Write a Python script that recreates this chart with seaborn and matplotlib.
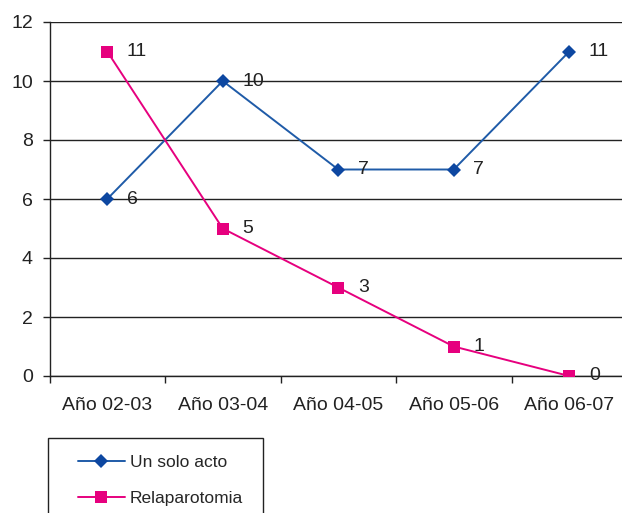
import pandas as pd
import numpy as np
import seaborn as sns
import matplotlib.pyplot as plt
from matplotlib.ticker import FixedLocator
from matplotlib.patches import Rectangle

# Data
years = ['Año 02-03', 'Año 03-04', 'Año 04-05', 'Año 05-06', 'Año 06-07']
un_solo_acto = [6, 10, 7, 7, 11]
relaparotomia = [11, 5, 3, 1, 0]

df = pd.DataFrame({
    'Año': years * 2,
    'Casos': un_solo_acto + relaparotomia,
    'Serie': ['Un solo acto'] * 5 + ['Relaparotomia'] * 5,
})

sns.set_style('white')
plt.rcParams['font.family'] = ['Liberation Sans', 'DejaVu Sans']

fig = plt.figure(figsize=(6.22, 5.13), dpi=100)
ax = fig.add_axes([49.5 / 622, 1 - 376 / 513, 577.5 / 622, 354 / 513])

pal = {'Un solo acto': '#1f5ba8', 'Relaparotomia': '#e6007e'}
mk = {'Un solo acto': 'D', 'Relaparotomia': 's'}
for serie in ['Un solo acto', 'Relaparotomia']:
    d = df[df['Serie'] == serie]
    sns.lineplot(data=d, x='Año', y='Casos', ax=ax, color=pal[serie], lw=1.4,
                 marker=mk[serie], markersize=8 if serie == 'Relaparotomia' else 7,
                 markeredgewidth=0,
                 markerfacecolor='#0d47a1' if serie == 'Un solo acto' else '#e6007e',
                 label=serie, sort=False, zorder=3)
    for i, v in enumerate(d['Casos']):
        ax.text(i + 0.17, v, str(v), fontsize=14, va='center', ha='left', color='#222222')

ax.set_xlim(-0.5, 4.5)
ax.set_ylim(0, 12)
ax.set_yticks(np.arange(0, 13, 2))
ax.yaxis.grid(True, color='#222222', lw=1)
ax.set_axisbelow(True)
ax.xaxis.set_minor_locator(FixedLocator(np.arange(-0.5, 5, 1)))
ax.tick_params(axis='x', which='major', length=0, pad=15, labelsize=14, colors='#222222')
ax.tick_params(axis='x', which='minor', length=5, width=1, direction='out', color='#222222', bottom=True)
ax.tick_params(axis='y', length=5, width=1, direction='out', color='#222222', left=True,
               labelsize=14, labelcolor='#222222', pad=7)
ax.set_xlabel('')
ax.set_ylabel('')
for s in ['top', 'right']:
    ax.spines[s].set_visible(False)
for s in ['left', 'bottom']:
    ax.spines[s].set_color('#222222')
    ax.spines[s].set_linewidth(1)

# legend box (cut off at the bottom like the original)
fig.patches.append(Rectangle((48 / 622, -0.05), 215 / 622, (513 - 438) / 513 + 0.05,
                             transform=fig.transFigure, fill=False, edgecolor='#222222', lw=1))
leg = ax.legend(loc='upper left', bbox_to_anchor=(78 / 622, 1 - 455 / 513), bbox_transform=fig.transFigure,
                frameon=False, fontsize=12.5, handlelength=2.7, borderpad=0,
                labelspacing=1.2, handletextpad=0.3, borderaxespad=0)

fig.savefig('out.png', dpi=100)
